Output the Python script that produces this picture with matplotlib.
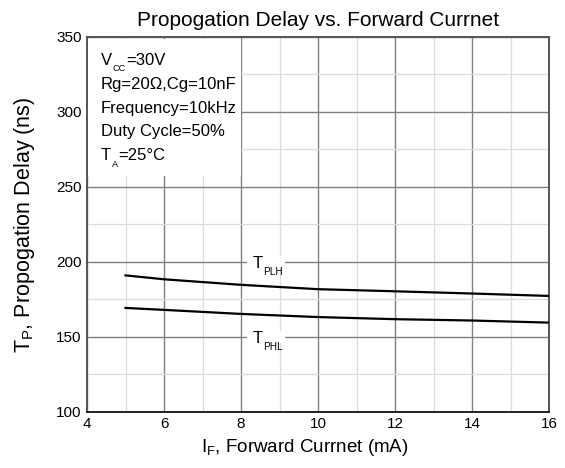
import matplotlib
matplotlib.use("Agg")
import matplotlib.pyplot as plt
from matplotlib.patches import Rectangle
from matplotlib.ticker import MultipleLocator

plt.rcParams['font.family'] = ['Liberation Sans', 'DejaVu Sans']
plt.rcParams['mathtext.fontset'] = 'custom'
plt.rcParams['mathtext.rm'] = 'Liberation Sans'
plt.rcParams['mathtext.it'] = 'Liberation Sans:italic'
plt.rcParams['mathtext.default'] = 'rm'

current_ma = [5, 6, 8, 10, 12, 14, 16]
tplh_ns = [191.0, 188.4, 184.7, 181.8, 180.4, 178.9, 177.3]
tphl_ns = [169.3, 168.0, 165.3, 163.2, 161.8, 160.9, 159.5]
xticks = [4, 6, 8, 10, 12, 14, 16]
yticks = [100, 150, 200, 250, 300, 350]
# (main, subscript, rest)
conditions = [('V', 'CC', '=30V'), ('Rg=20Ω,Cg=10nF', '', ''),
              ('Frequency=10kHz', '', ''), ('Duty Cycle=50%', '', ''),
              ('T', 'A', '=25°C')]

fig = plt.figure(figsize=(5.65, 4.68), dpi=100)
ax = fig.add_axes([0.154, 0.12, 0.818, 0.801])
ax.set_xlim(4, 16)
ax.set_ylim(100, 350)
ax.set_xticks(xticks)
ax.set_yticks(yticks)
ax.xaxis.set_minor_locator(MultipleLocator(1))
ax.yaxis.set_minor_locator(MultipleLocator(25))
ax.grid(which='major', color='#808080', linewidth=1.0, zorder=0)
ax.grid(which='minor', color='#dcdcdc', linewidth=0.9, zorder=0)
ax.set_axisbelow(True)
ax.tick_params(which='both', length=0, labelsize=11, pad=4)
for s in ax.spines.values():
    s.set_color('#555555')
    s.set_linewidth(1.4)
ax.spines['bottom'].set_color('#222222')


def sub_label(x, y, main, sub, rest='', fs=12, sfs=7, drop=4.8,
              coords='data', zorder=5):
    tr = ax.transData if coords == 'data' else ax.transAxes
    ycs = 'data' if coords == 'data' else 'axes fraction'
    t = ax.text(x, y, main, fontsize=fs, transform=tr, ha='left',
                va='baseline', zorder=zorder)
    if sub:
        s = ax.annotate(sub, xy=(1, y), xycoords=(t, ycs), xytext=(0.6, -drop),
                        textcoords='offset points', fontsize=sfs,
                        ha='left', va='baseline', zorder=zorder)
        if rest:
            ax.annotate(rest, xy=(1, y), xycoords=(s, ycs), xytext=(0.3, 0),
                        textcoords='offset points', fontsize=fs,
                        ha='left', va='baseline', zorder=zorder)
    return t


# white box behind conditions
ax.add_patch(Rectangle((0.003, 0.63), 0.33, 0.365, transform=ax.transAxes,
                       facecolor='white', edgecolor='none', zorder=1))
# white gaps behind curve labels
for yv in (200, 150):
    ax.add_patch(Rectangle((8.15, yv - 4), 1.0, 8, facecolor='white',
                           edgecolor='none', zorder=2))

ax.plot(current_ma, tplh_ns, color='black', linewidth=1.6, zorder=3)
ax.plot(current_ma, tphl_ns, color='black', linewidth=1.6, zorder=3)

sub_label(8.29, 196.2, 'T', 'PLH', sfs=7.2, drop=5.2)
sub_label(8.29, 146.2, 'T', 'PHL', sfs=7.2, drop=5.2)

y0 = 0.925
for i, (m, sb, r) in enumerate(conditions):
    sub_label(0.03, y0 - i * 0.0635, m, sb, r, fs=12, sfs=6.6, drop=4.6,
              coords='axes')

ax.set_title('Propogation Delay vs. Forward Currnet', fontsize=15, pad=8)
ax.set_xlabel(r'I$_{\mathrm{F}}$, Forward Currnet (mA)', fontsize=13.5)
ax.xaxis.set_label_coords(0.472, -0.068)
ax.set_ylabel(r'T$_{\mathrm{P}}$, Propogation Delay (ns)', fontsize=15.5,
              labelpad=14)

fig.savefig('out.png', dpi=100, facecolor='white')
